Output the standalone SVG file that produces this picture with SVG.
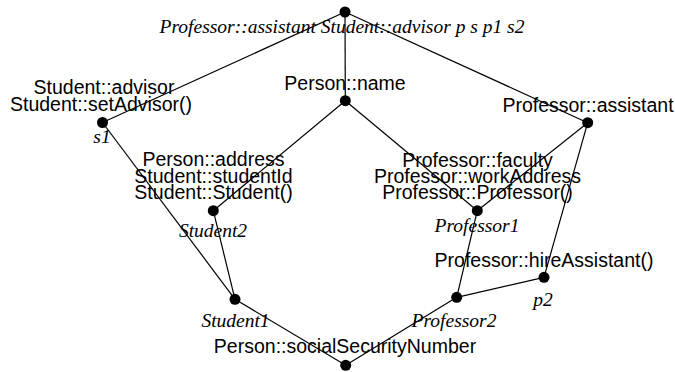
<svg xmlns="http://www.w3.org/2000/svg" width="675" height="372" viewBox="0 0 675 372">
<style>
.e{stroke:#000;stroke-width:1.2;fill:none}
.n{fill:#000}
.s{font-family:"Liberation Sans",Arial,sans-serif;font-size:19.5px;text-anchor:middle;fill:#000}
.i{font-family:"Liberation Serif","Times New Roman",serif;font-style:italic;font-size:19.5px;text-anchor:middle;fill:#000}
</style>
<rect width="675" height="372" fill="#fff"/>
<g id="connectors">
<line class="e" x1="345" y1="12" x2="102.5" y2="122.5"/>
<line class="e" x1="345" y1="12" x2="345.3" y2="100.7"/>
<line class="e" x1="345" y1="12" x2="587.7" y2="122.7"/>
<line class="e" x1="102.5" y1="122.5" x2="235" y2="299.3"/>
<line class="e" x1="345.3" y1="100.7" x2="213.3" y2="210.7"/>
<line class="e" x1="345.3" y1="100.7" x2="477.3" y2="210.7"/>
<line class="e" x1="587.7" y1="122.7" x2="477.3" y2="210.7"/>
<line class="e" x1="587.7" y1="122.7" x2="544" y2="277.3"/>
<line class="e" x1="213.3" y1="210.7" x2="235" y2="299.3"/>
<line class="e" x1="477.3" y1="210.7" x2="456.7" y2="297.3"/>
<line class="e" x1="544" y1="277.3" x2="456.7" y2="297.3"/>
<line class="e" x1="235" y1="299.3" x2="345.7" y2="365.3"/>
<line class="e" x1="456.7" y1="297.3" x2="345.7" y2="365.3"/>
</g>
<g id="top">
<circle class="n" cx="345" cy="12" r="5.5"/>
<text class="i" x="342" y="33">Professor::assistant Student::advisor p s p1 s2</text>
</g>
<g id="s1">
<circle class="n" cx="102.5" cy="122.5" r="5.5"/>
<text class="s" x="104" y="94">Student::advisor</text>
<text class="s" x="101" y="110.5">Student::setAdvisor()</text>
<text class="i" x="102" y="143">s1</text>
</g>
<g id="personName">
<circle class="n" cx="345.3" cy="100.7" r="5.5"/>
<text class="s" x="345" y="90">Person::name</text>
</g>
<g id="profAssistant">
<circle class="n" cx="587.7" cy="122.7" r="5.5"/>
<text class="s" x="588" y="112">Professor::assistant</text>
</g>
<g id="student2">
<circle class="n" cx="213.3" cy="210.7" r="5.5"/>
<text class="s" x="213.5" y="166">Person::address</text>
<text class="s" x="213.5" y="182.5">Student::studentId</text>
<text class="s" x="213.5" y="199">Student::Student()</text>
<text class="i" x="213" y="237">Student2</text>
</g>
<g id="professor1">
<circle class="n" cx="477.3" cy="210.7" r="5.5"/>
<text class="s" x="477.5" y="166.5">Professor::faculty</text>
<text class="s" x="477.5" y="182.5">Professor::workAddress</text>
<text class="s" x="477.5" y="199">Professor::Professor()</text>
<text class="i" x="477" y="232">Professor1</text>
</g>
<g id="p2">
<circle class="n" cx="544" cy="277.3" r="5.5"/>
<text class="s" x="544" y="266.5">Professor::hireAssistant()</text>
<text class="i" x="543" y="306">p2</text>
</g>
<g id="student1">
<circle class="n" cx="235" cy="299.3" r="5.5"/>
<text class="i" x="235.5" y="327">Student1</text>
</g>
<g id="professor2">
<circle class="n" cx="456.7" cy="297.3" r="5.5"/>
<text class="i" x="454" y="327">Professor2</text>
</g>
<g id="bottom">
<circle class="n" cx="345.7" cy="365.3" r="5.5"/>
<text class="s" x="345" y="353">Person::socialSecurityNumber</text>
</g>
</svg>
